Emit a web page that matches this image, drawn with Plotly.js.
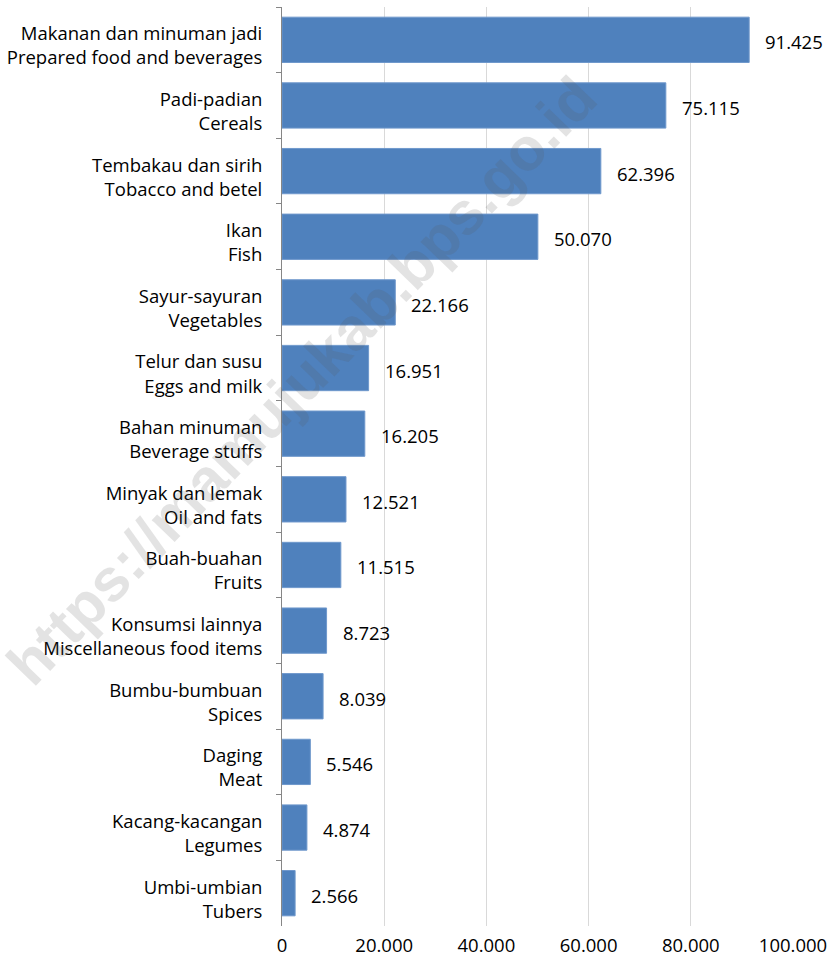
<!DOCTYPE html>
<html>
<head>
<meta charset="utf-8">
<script src="https://cdn.plot.ly/plotly-3.0.1.min.js"></script>
<style>html,body{margin:0;padding:0;background:#fff}#chart{width:834px;height:964px}</style>
</head>
<body>
<div id="chart"></div>
<script>
// Categories, top to bottom (Indonesian / English)
var categoriesId = ["Makanan dan minuman jadi", "Padi-padian", "Tembakau dan sirih", "Ikan", "Sayur-sayuran", "Telur dan susu", "Bahan minuman", "Minyak dan lemak", "Buah-buahan", "Konsumsi lainnya", "Bumbu-bumbuan", "Daging", "Kacang-kacangan", "Umbi-umbian"];
var categoriesEn = ["Prepared food and beverages", "Cereals", "Tobacco and betel", "Fish", "Vegetables", "Eggs and milk", "Beverage stuffs", "Oil and fats", "Fruits", "Miscellaneous food items", "Spices", "Meat", "Legumes", "Tubers"];
var values = [91425, 75115, 62396, 50070, 22166, 16951, 16205, 12521, 11515, 8723, 8039, 5546, 4874, 2566];
var tickValues = [0, 20000, 40000, 60000, 80000, 100000];
var tickLabels = ["0", "20.000", "40.000", "60.000", "80.000", "100.000"];
var watermark = "https://mamujukab.bps.go.id";

var labels = categoriesId.map(function (c, i) { return c + "<br>" + categoriesEn[i]; });
function fmt(v) { return String(v).replace(/\B(?=(\d{3})+(?!\d))/g, "."); }

var FONT = "'Open Sans', Lato, sans-serif";
var FS = 18.5;

var trace = {
  type: "bar",
  orientation: "h",
  x: values,
  y: labels,
  marker: { color: "#4F81BD", line: { color: "#6F98CC", width: 1 } },
  hoverinfo: "none",
  width: 0.69
};

var annotations = values.map(function (v, i) {
  return {
    x: v, y: labels[i], xref: "x", yref: "y",
    text: fmt(v), showarrow: false,
    xanchor: "left", yanchor: "middle", xshift: 14, yshift: -2,
    font: { family: FONT, size: FS, color: "#000" }
  };
});
annotations.push({
  xref: "paper", yref: "paper", x: 0.039, y: 0.594,
  text: watermark, showarrow: false, textangle: -46,
  xanchor: "center", yanchor: "middle",
  font: { family: "'Liberation Sans', Arial, sans-serif", size: 60, color: "rgba(90,90,90,0.17)", weight: "bold" }
});

var layout = {
  width: 834, height: 964,
  margin: { l: 282, r: 41, t: 7, b: 38, pad: 0 },
  paper_bgcolor: "#fff", plot_bgcolor: "#fff",
  showlegend: false,
  bargap: 0.31,
  font: { family: FONT, size: FS, color: "#000" },
  xaxis: {
    range: [0, 100000],
    tickvals: tickValues, ticktext: tickLabels,
    showgrid: true, gridcolor: "#D9D9D9", gridwidth: 1,
    zeroline: false, showline: false, ticks: "",
    ticklabelstandoff: 6,
    tickfont: { family: FONT, size: FS, color: "#000" }
  },
  yaxis: {
    type: "category",
    autorange: "reversed",
    showline: true, linecolor: "#868686", linewidth: 1,
    ticks: "outside", ticklen: 5, tickcolor: "#868686", tickson: "boundaries",
    showgrid: false, zeroline: false,
    ticklabelstandoff: 15,
    ticklabelshift: -6,
    tickfont: { family: FONT, size: FS, color: "#000" }
  },
  annotations: annotations
};

Plotly.newPlot("chart", [trace], layout, { displayModeBar: false, staticPlot: true });
</script>
</body>
</html>
